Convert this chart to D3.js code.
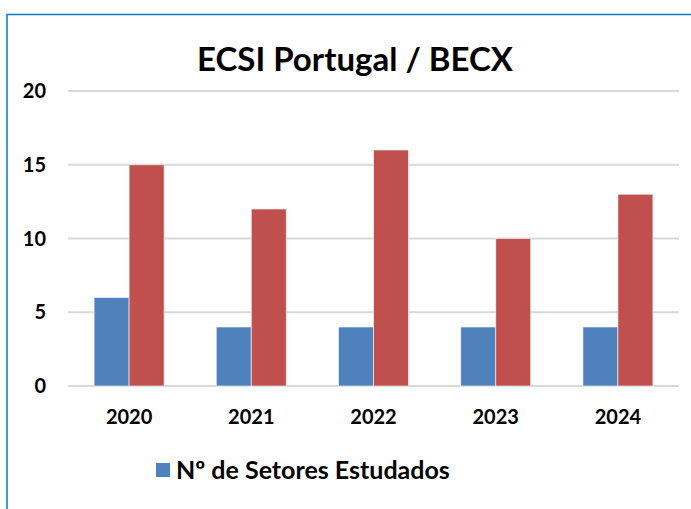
<!DOCTYPE html>
<meta charset="utf-8">
<style>
body { margin: 0; background: #fff; }
svg text { font-family: Lato, "Open Sans", sans-serif; font-weight: bold; fill: #000; }
.grid line { stroke: #d9d9d9; stroke-width: 2px; }
.bars rect { stroke: #fff; stroke-opacity: 0.6; stroke-width: 1px; }
</style>
<body>
  <svg></svg>
</body>
<script src="https://cdn.jsdelivr.net/npm/d3@7"></script>
<script>

var years = ["2020", "2021", "2022", "2023", "2024"];
var setores = [6, 4, 4, 4, 4];
var outros = [15, 12, 16, 10, 13];
var yTicks = [0, 5, 10, 15, 20];
var seriesNames = ["Nº de Setores Estudados", ""];
var colors = ["#4f81bd", "#c0504d"];

var width = 691, height = 509;
var svg = d3.select("svg").attr("width", width).attr("height", height);

// frame (blue line top + left)
svg.append("path")
    .attr("d", "M7,509V14.5H691")
    .attr("fill", "none")
    .attr("stroke", "#0a78cf")
    .attr("stroke-width", 1.5);

var plotLeft = 68, plotRight = 679, plotTop = 91, plotBottom = 386;

var x = d3.scaleBand().domain(years).range([plotLeft, plotRight])
    .paddingInner(0.427).paddingOuter(0.2135);
var x1 = d3.scaleBand().domain([0, 1]).range([0, x.bandwidth()]);
var y = d3.scaleLinear().domain([0, 20]).range([plotBottom, plotTop]);

svg.append("text")
    .attr("x", 355)
    .attr("y", 71)
    .attr("text-anchor", "middle")
    .style("font-size", "33px")
    .text("ECSI Portugal / BECX");

svg.append("g")
    .attr("class", "grid")
  .selectAll("line")
  .data(yTicks)
  .enter().append("line")
    .attr("x1", plotLeft).attr("x2", plotRight)
    .attr("y1", function(d) { return y(d); })
    .attr("y2", function(d) { return y(d); });

svg.append("g")
  .selectAll("text")
  .data(yTicks)
  .enter().append("text")
    .attr("x", 46)
    .attr("y", function(d) { return y(d); })
    .attr("dy", "0.35em")
    .attr("text-anchor", "end")
    .style("font-size", "20px")
    .text(function(d) { return d; });

var rows = years.map(function(yr, i) { return { year: yr, vals: [setores[i], outros[i]] }; });

var groups = svg.append("g")
    .attr("class", "bars")
  .selectAll("g")
  .data(rows)
  .enter().append("g")
    .attr("transform", function(d) { return "translate(" + x(d.year) + ",0)"; });

groups.selectAll("rect")
  .data(function(d) { return d.vals.map(function(v, k) { return { k: k, v: v }; }); })
  .enter().append("rect")
    .attr("x", function(d) { return x1(d.k); })
    .attr("width", x1.bandwidth())
    .attr("y", function(d) { return y(d.v); })
    .attr("height", function(d) { return y(0) - y(d.v); })
    .attr("fill", function(d) { return colors[d.k]; });

svg.append("g")
  .selectAll("text")
  .data(years)
  .enter().append("text")
    .attr("x", function(d) { return x(d) + x.bandwidth() / 2; })
    .attr("y", 417)
    .attr("dy", "0.35em")
    .attr("text-anchor", "middle")
    .style("font-size", "20px")
    .text(function(d) { return d; });

// legend
var legend = svg.append("g").attr("transform", "translate(156,463)");
legend.append("rect")
    .attr("width", 14).attr("height", 14)
    .attr("fill", colors[0]);
legend.append("text")
    .attr("x", 20)
    .attr("y", 7)
    .attr("dy", "0.35em")
    .style("font-size", "25px")
    .text(seriesNames[0]);

</script>
